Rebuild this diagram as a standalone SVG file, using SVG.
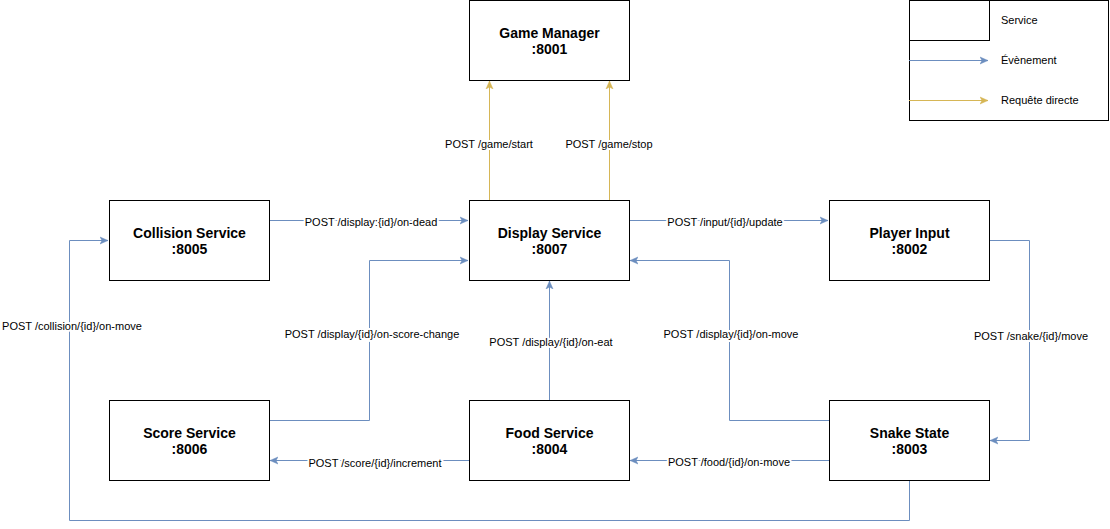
<svg xmlns="http://www.w3.org/2000/svg" width="1110" height="529" viewBox="0 0 1110 529">
<style>
.box{fill:#fff;stroke:#000;stroke-width:1}
.nt{font-family:"Liberation Sans",Arial,sans-serif;font-size:14px;font-weight:bold;text-anchor:middle;fill:#000}
.lb{font-family:"Liberation Sans",Arial,sans-serif;font-size:11px;text-anchor:middle;fill:#000;stroke:#fff;stroke-width:4px;paint-order:stroke;stroke-linejoin:round}
.lg{font-family:"Liberation Sans",Arial,sans-serif;font-size:11px;fill:#000}
.ev{fill:none;stroke:#6c8ebf;stroke-width:1;marker-end:url(#ab)}
.rq{fill:none;stroke:#d6b656;stroke-width:1;marker-end:url(#ay)}
</style>
<defs>
<marker id="ab" markerUnits="userSpaceOnUse" markerWidth="10" markerHeight="10" refX="8" refY="4" orient="auto" viewBox="0 0 10 8">
<path d="M0,0.5 L8,4 L0,7.5 L2,4 z" fill="#6c8ebf" stroke="#6c8ebf" stroke-width="0.5"/>
</marker>
<marker id="ay" markerUnits="userSpaceOnUse" markerWidth="10" markerHeight="10" refX="8" refY="4" orient="auto" viewBox="0 0 10 8">
<path d="M0,0.5 L8,4 L0,7.5 L2,4 z" fill="#d6b656" stroke="#d6b656" stroke-width="0.5"/>
</marker>
</defs>
<rect width="1110" height="529" fill="#fff"/>

<g id="connectors">
<path id="e-start" class="rq" d="M489.5,200 L489.5,81"/>
<path id="e-stop" class="rq" d="M609.5,200 L609.5,81"/>
<path id="e-dead" class="ev" d="M269,220.5 L468,220.5"/>
<path id="e-score-change" class="ev" d="M269,420.5 L369.5,420.5 L369.5,260.5 L468,260.5"/>
<path id="e-eat" class="ev" d="M549.5,400 L549.5,281"/>
<path id="e-display-move" class="ev" d="M829,420.5 L729.5,420.5 L729.5,260.5 L630,260.5"/>
<path id="e-input" class="ev" d="M629,220.5 L828,220.5"/>
<path id="e-snake-move" class="ev" d="M989,240.5 L1029.5,240.5 L1029.5,440.5 L990,440.5"/>
<path id="e-food-move" class="ev" d="M829,460.5 L630,460.5"/>
<path id="e-increment" class="ev" d="M469,460.5 L270,460.5"/>
<path id="e-collision" class="ev" d="M909.5,480 L909.5,520.5 L69.5,520.5 L69.5,240.5 L108,240.5"/>
<text class="lb" x="489" y="148">POST /game/start</text>
<text class="lb" x="609" y="148">POST /game/stop</text>
<text class="lb" x="371" y="226">POST /display:{id}/on-dead</text>
<text class="lb" x="725" y="226">POST /input/{id}/update</text>
<text class="lb" x="72" y="330">POST /collision/{id}/on-move</text>
<text class="lb" x="372" y="338">POST /display/{id}/on-score-change</text>
<text class="lb" x="551" y="346">POST /display/{id}/on-eat</text>
<text class="lb" x="731" y="338">POST /display/{id}/on-move</text>
<text class="lb" x="1031" y="340">POST /snake/{id}/move</text>
<text class="lb" x="375" y="467">POST /score/{id}/increment</text>
<text class="lb" x="729" y="466">POST /food/{id}/on-move</text>
</g>

<g id="game-manager">
<rect class="box" x="469.5" y="0.5" width="160" height="80"/>
<text class="nt" x="549.5" y="38">Game Manager</text>
<text class="nt" x="549.5" y="54">:8001</text>
</g>
<g id="display-service">
<rect class="box" x="469.5" y="200.5" width="160" height="80"/>
<text class="nt" x="549.5" y="238">Display Service</text>
<text class="nt" x="549.5" y="254">:8007</text>
</g>
<g id="collision-service">
<rect class="box" x="109.5" y="200.5" width="160" height="80"/>
<text class="nt" x="189.5" y="238">Collision Service</text>
<text class="nt" x="189.5" y="254">:8005</text>
</g>
<g id="player-input">
<rect class="box" x="829.5" y="200.5" width="160" height="80"/>
<text class="nt" x="909.5" y="238">Player Input</text>
<text class="nt" x="909.5" y="254">:8002</text>
</g>
<g id="score-service">
<rect class="box" x="109.5" y="400.5" width="160" height="80"/>
<text class="nt" x="189.5" y="438">Score Service</text>
<text class="nt" x="189.5" y="454">:8006</text>
</g>
<g id="food-service">
<rect class="box" x="469.5" y="400.5" width="160" height="80"/>
<text class="nt" x="549.5" y="438">Food Service</text>
<text class="nt" x="549.5" y="454">:8004</text>
</g>
<g id="snake-state">
<rect class="box" x="829.5" y="400.5" width="160" height="80"/>
<text class="nt" x="909.5" y="438">Snake State</text>
<text class="nt" x="909.5" y="454">:8003</text>
</g>

<g id="legend">
<rect class="box" x="909.5" y="0.5" width="199" height="120"/>
<rect class="box" x="909.5" y="0.5" width="80" height="40"/>
<path class="ev" d="M909,60.5 L988,60.5"/>
<path class="rq" d="M909,100.5 L988,100.5"/>
<text class="lg" x="1001" y="24">Service</text>
<text class="lg" x="1001" y="64">Évènement</text>
<text class="lg" x="1001" y="104">Requête directe</text>
</g>
</svg>
